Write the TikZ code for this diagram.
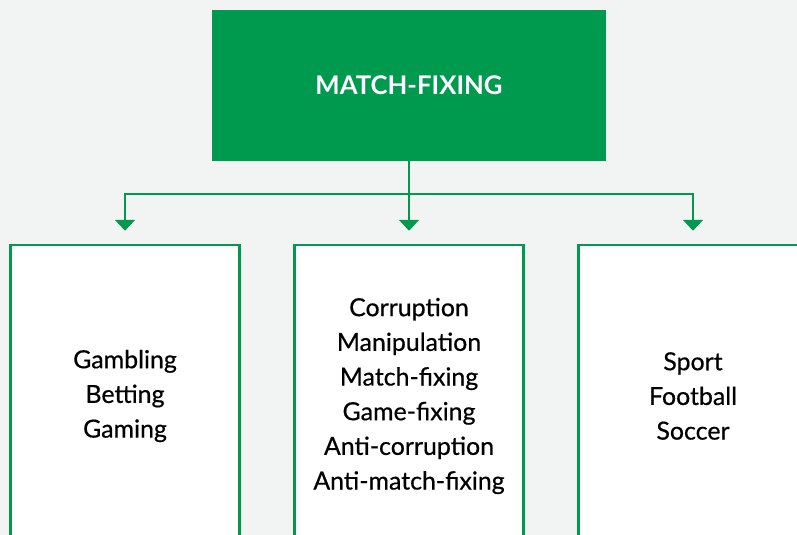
\documentclass[tikz,border=0pt]{standalone}
\usepackage{fontspec}
\setmainfont{Lato}
\newfontfamily\midfont[FakeBold=0.5]{Lato}
\usetikzlibrary{arrows.meta,positioning}
\definecolor{fixgreen}{HTML}{009A4E}
\definecolor{paper}{HTML}{F2F4F3}

\begin{document}
\begin{tikzpicture}[x=1bp,y=1bp,>={Triangle[width=20bp,length=11bp]},node distance=284bp,
	title/.style={fill=fixgreen,text=white,font=\bfseries\fontsize{25.8}{30}\selectfont,minimum width=394bp,minimum height=151bp,inner sep=0pt},
	group/.style={draw=fixgreen,line width=2.5bp,fill=white,minimum width=229bp,minimum height=302bp,align=center,font=\midfont\fontsize{25}{34.8}\selectfont,inner sep=0pt},
	link/.style={draw=fixgreen,line width=2.2bp},
	feed/.style={link,->,shorten >=13bp}]

\path[use as bounding box] (0,0) rectangle (797,-535);
\clip (0,0) rectangle (797,-535);
\fill[paper] (0,0) rectangle (797,-535);

\node[title]   (fix)  at (409,-85.5)   {MATCH-FIXING};
 \node[group]  (corr) [below of=fix,node distance=310.5bp]  {Corruption\\Manipulation\\Match-fixing\\Game-fixing\\Anti-corruption\\Anti-match-fixing};
	\node[group] (gamb) [left of=corr]   {Gambling\\Betting\\Gaming};
	\node[group] (sport) [right of=corr] {Sport\\Football\\Soccer};

	\draw[link] (fix.south) -- ++(0,-33) coordinate (split);
	\draw[feed] (split) -| (gamb);
	\draw[feed] (split) -- (corr);
	\draw[feed] (split) -| (sport);

\end{tikzpicture}
\end{document}
